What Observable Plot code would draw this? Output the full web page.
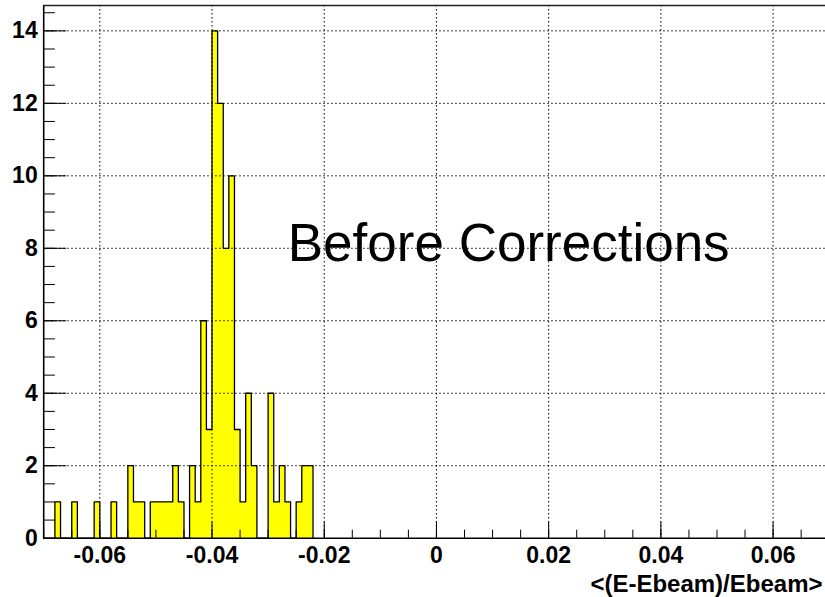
<!DOCTYPE html>
<html><head><meta charset="utf-8">
<script src="https://cdn.jsdelivr.net/npm/d3@7"></script>
<script src="https://cdn.jsdelivr.net/npm/@observablehq/plot@0.6"></script>
<style>
html,body{margin:0;padding:0;background:#fff;}
#chart svg{display:block;}
</style></head><body><div id="chart"></div>
<script>
// Histogram bins (lower edges) and entries
const binLo = [-0.068,-0.067,-0.066,-0.065,-0.064,-0.063,-0.062,-0.061,-0.060,-0.059,
  -0.058,-0.057,-0.056,-0.055,-0.054,-0.053,-0.052,-0.051,-0.050,-0.049,
  -0.048,-0.047,-0.046,-0.045,-0.044,-0.043,-0.042,-0.041,-0.040,-0.039,
  -0.038,-0.037,-0.036,-0.035,-0.034,-0.033,-0.032,-0.031,-0.030,-0.029,
  -0.028,-0.027,-0.026,-0.025,-0.024,-0.023];
const counts = [1,0,0,1,0,0,0,1,0,0,
  1,0,0,2,1,1,0,1,1,1,
  1,2,1,0,2,1,6,3,14,12,
  8,10,3,1,4,2,0,0,4,1,
  2,1,0,1,2,2];
const binWidth = 0.001;

const xDomain = [-0.07, 0.07];
const yDomain = [0, 14.7];
const xMajorTicks = [-0.06,-0.04,-0.02,0,0.02,0.04,0.06];
const xTickLabels = ["-0.06","-0.04","-0.02","0","0.02","0.04","0.06"];
const yMajorTicks = [0,2,4,6,8,10,12,14];
const yTickLabels = ["0","2","4","6","8","10","12","14"];
const xMinorTicks = d3.range(-0.07, 0.0701, 0.005);
const yMinorTicks = d3.range(0, 14.51, 0.5);
const xTitle = "<(E-Ebeam)/Ebeam>";
const annotation = {text: "Before Corrections", x: -0.0265, y: 7.64};

// outline / fill points for a step histogram
const pts = [{x: binLo[0], y: 0}];
binLo.forEach((lo, i) => pts.push({x: lo, y: counts[i]}));
const lastHi = binLo[binLo.length - 1] + binWidth;
pts.push({x: lastHi, y: counts[counts.length - 1]});
pts.push({x: lastHi, y: 0});

const W = 825, H = 597;
const mL = 43.2, mR = 0, mT = 5, mB = 59.3;
const fw = W - mL - mR, fh = H - mT - mB;
const font = "'Liberation Sans', Arial, Helvetica, sans-serif";

const chart = Plot.plot({
  width: W, height: H,
  marginLeft: mL, marginRight: mR, marginTop: mT, marginBottom: mB,
  style: {fontFamily: font, background: "white", overflow: "hidden"},
  x: {domain: xDomain, range: [mL, 828.7], axis: null},
  y: {domain: yDomain, range: [H - mB, mT], axis: null},
  marks: [
    Plot.areaY(pts, {x: "x", y: "y", curve: "step-after", fill: "#ffff00"}),
    Plot.line(pts, {x: "x", y: "y", curve: "step-after", stroke: "black", strokeWidth: 1.3}),
    Plot.ruleX(xMajorTicks, {stroke: "black", strokeWidth: 1, strokeDasharray: "1.5,2.5"}),
    Plot.ruleY(yMajorTicks.filter(d => d > 0), {stroke: "black", strokeWidth: 1, strokeDasharray: "1.5,2.5"}),
    // frame lines
    Plot.ruleY([yDomain[1]], {stroke: "#222", strokeWidth: 1.3}),
    Plot.ruleY([0], {stroke: "black", strokeWidth: 1.6}),
    Plot.ruleX([xDomain[0]], {stroke: "black", strokeWidth: 1.6}),
    // ticks
    Plot.ruleX(xMinorTicks, {stroke: "black", strokeWidth: 1, insetTop: fh - 8}),
    Plot.ruleX(xMajorTicks, {stroke: "black", strokeWidth: 1, insetTop: fh - 16}),
    Plot.ruleY(yMinorTicks, {stroke: "black", strokeWidth: 1, insetRight: fw - 11.7}),
    Plot.ruleY(yMajorTicks, {stroke: "black", strokeWidth: 1, insetRight: fw - 23}),
    // tick labels
    Plot.text(xTickLabels, {x: (d, i) => xMajorTicks[i], text: d => d, frameAnchor: "bottom",
      lineAnchor: "top", dy: 8, fontSize: 23, fontWeight: "bold", fill: "black"}),
    Plot.text(yTickLabels, {y: (d, i) => yMajorTicks[i], text: d => d, frameAnchor: "left",
      textAnchor: "end", lineAnchor: "middle", dx: -6, fontSize: 23, fontWeight: "bold", fill: "black"}),
    Plot.text([xTitle], {text: d => d, frameAnchor: "bottom-right", textAnchor: "end",
      lineAnchor: "top", dx: -3, dy: 37, fontSize: 24, fontWeight: "bold", fill: "black"}),
    Plot.text([annotation], {x: "x", y: "y", text: "text", textAnchor: "start",
      lineAnchor: "bottom", fontSize: 53, fill: "black"})
  ]
});
document.getElementById("chart").appendChild(chart);
</script></body></html>
